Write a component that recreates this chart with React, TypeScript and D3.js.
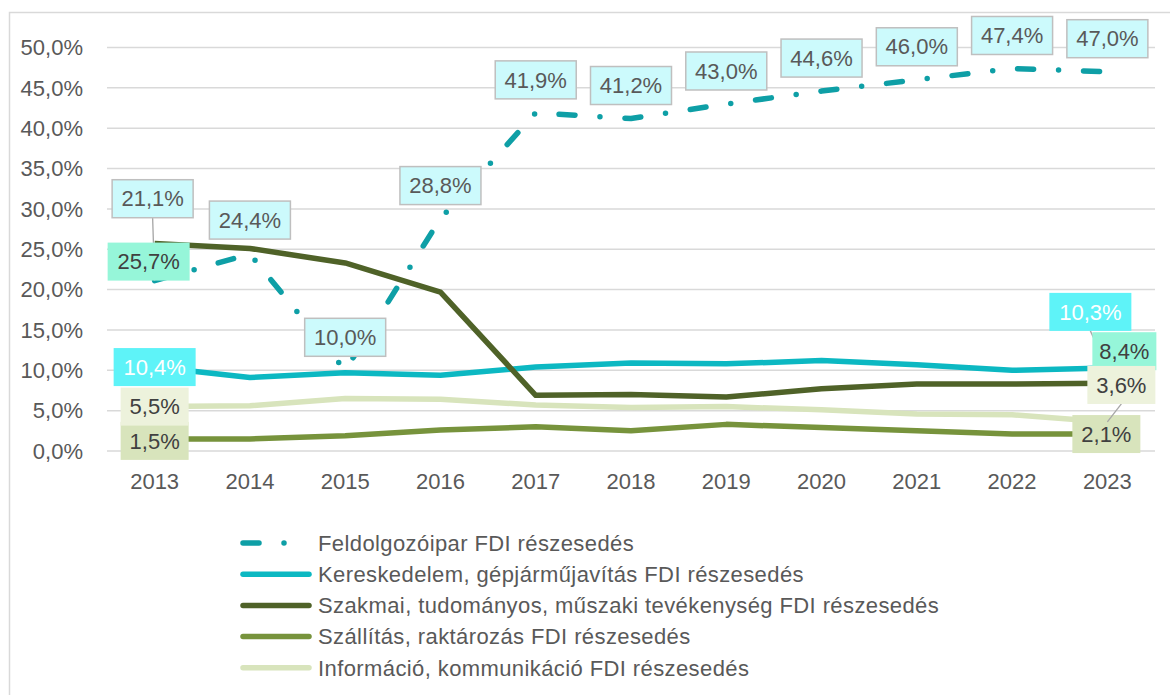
import React from "react";
import * as d3 from "d3";

// values (percent)
const years = ["2013", "2014", "2015", "2016", "2017", "2018", "2019", "2020", "2021", "2022", "2023"];
const feldolgozoipar = [21.1, 24.4, 10.0, 28.8, 41.9, 41.2, 43.0, 44.6, 46.0, 47.4, 47.0];
const kereskedelem = [10.4, 9.1, 9.7, 9.4, 10.4, 10.9, 10.8, 11.2, 10.7, 10.0, 10.3];
const szakmai = [25.7, 25.1, 23.3, 19.7, 6.9, 7.0, 6.7, 7.7, 8.3, 8.3, 8.4];
const szallitas = [1.5, 1.5, 1.9, 2.6, 3.0, 2.5, 3.3, 2.9, 2.5, 2.1, 2.1];
const informacio = [5.5, 5.6, 6.5, 6.4, 5.7, 5.4, 5.5, 5.1, 4.6, 4.5, 3.6];
const yTicks = [0, 5, 10, 15, 20, 25, 30, 35, 40, 45, 50];

const seriesNames = [
  "Feldolgozóipar FDI részesedés",
  "Kereskedelem, gépjárműjavítás FDI részesedés",
  "Szakmai, tudományos, műszaki tevékenység FDI részesedés",
  "Szállítás, raktározás FDI részesedés",
  "Információ, kommunikáció FDI részesedés",
];

const W = 1170;
const H = 695;
const FONT = "'Liberation Sans', Arial, sans-serif";
const FS = 22;
const TEXT = "#595959";
const DASH = "16 25 0 25";

type LabelPos = { i: number; dx: number; dy: number; leader?: boolean; w?: number };

type Series = {
  name: string;
  values: number[];
  color: string;
  dash?: string;
  labelFill: string;
  labelStroke?: string;
  labelText: string;
  labels: LabelPos[];
};

const series: Series[] = [
  {
    name: seriesNames[0], values: feldolgozoipar, color: "#0E9FA6", dash: DASH,
    labelFill: "#CCFAFC", labelStroke: "#BFBFBF", labelText: TEXT,
    labels: [
      { i: 0, dx: -2, dy: -82, leader: true },
      { i: 1, dx: 0, dy: -34 }, { i: 2, dx: 0, dy: -33 }, { i: 3, dx: 0, dy: -33 },
      { i: 4, dx: 0, dy: -33 }, { i: 5, dx: 0, dy: -33 }, { i: 6, dx: 0, dy: -33 },
      { i: 7, dx: 0, dy: -33 }, { i: 8, dx: 0, dy: -33 }, { i: 9, dx: 0, dy: -33 },
      { i: 10, dx: 0, dy: -33 },
    ],
  },
  {
    name: seriesNames[1], values: kereskedelem, color: "#0CB8C2",
    labelFill: "#5EF3F8", labelText: "#FFFFFF",
    labels: [{ i: 0, dx: 0, dy: 0, w: 82 }, { i: 10, dx: -17, dy: -56, leader: true, w: 82 }],
  },
  {
    name: seriesNames[2], values: szakmai, color: "#4F6228",
    labelFill: "#96F6D9", labelText: "#404040",
    labels: [{ i: 0, dx: -6, dy: 18, w: 82 }, { i: 10, dx: 17, dy: -32, w: 64 }],
  },
  {
    name: seriesNames[3], values: szallitas, color: "#77933C",
    labelFill: "#D8E4BC", labelText: "#404040",
    labels: [{ i: 0, dx: 0, dy: 2 }, { i: 10, dx: -1, dy: 0 }],
  },
  {
    name: seriesNames[4], values: informacio, color: "#D8E4BC",
    labelFill: "#EDF2DC", labelText: "#404040",
    labels: [{ i: 0, dx: 0, dy: 0 }, { i: 10, dx: 14, dy: -37, leader: true }],
  },
];

const fmt = (v: number) => v.toFixed(1).replace(".", ",") + "%";

export default function App() {
  const x = d3.scaleBand<string>().domain(years).range([107, 1155]).padding(0);
  const cx = (y: string) => (x(y) ?? 0) + x.bandwidth() / 2;
  const y = d3.scaleLinear().domain([0, 50]).range([451, 47.5]);

  const line = d3
    .line<number>()
    .x((_, i) => cx(years[i]))
    .y((d) => y(d));

  return (
    <div style={{ position: "absolute", left: 0, top: 0 }}>
      <svg width={W} height={H} viewBox={`0 0 ${W} ${H}`} style={{ display: "block", fontFamily: FONT }}>
        <rect x={0} y={0} width={W} height={H} fill="#fff" />
        <rect x={9.5} y={12.5} width={W + 20} height={H + 20} fill="none" stroke="#D9D9D9" strokeWidth={1.5} />

        {/* gridlines and y axis */}
        {yTicks.map((t) => (
          <g key={t}>
            <line x1={107} x2={1155} y1={y(t)} y2={y(t)} stroke="#D9D9D9" strokeWidth={1.5} />
            <text x={83} y={y(t)} dy="0.35em" textAnchor="end" fontSize={FS} fill={TEXT}>
              {fmt(t)}
            </text>
          </g>
        ))}

        {/* x axis labels */}
        {years.map((yr) => (
          <text key={yr} x={cx(yr)} y={489} textAnchor="middle" fontSize={FS} fill={TEXT}>
            {yr}
          </text>
        ))}

        {/* lines */}
        {series.map((s) => (
          <path
            key={s.name}
            d={line(s.values) ?? ""}
            fill="none"
            stroke={s.color}
            strokeWidth={5.5}
            strokeLinejoin="round"
            strokeLinecap={s.dash ? "round" : "butt"}
            strokeDasharray={s.dash}
          />
        ))}

        {/* data labels, drawn in series order so later boxes cover earlier leaders */}
        {series.map((s) => (
          <g key={s.name + "-lbl"}>
            {s.labels.map((l) => {
              const v = s.values[l.i];
              const px = cx(years[l.i]);
              const py = y(v);
              const txt = fmt(v);
              const bw = l.w ?? (txt.length >= 5 ? 81 : 68);
              const bh = 38;
              const bx = px + l.dx;
              const by = py + l.dy;
              const fromY = l.dy < 0 ? by + bh / 2 : by - bh / 2;
              return (
                <g key={l.i}>
                  {l.leader && <line x1={bx} y1={fromY} x2={px} y2={py} stroke="#A6A6A6" strokeWidth={1.3} />}
                  <rect
                    x={bx - bw / 2}
                    y={by - bh / 2}
                    width={bw}
                    height={bh}
                    fill={s.labelFill}
                    stroke={s.labelStroke ?? "none"}
                    strokeWidth={1.5}
                  />
                  <text x={bx} y={by} dy="0.35em" textAnchor="middle" fontSize={FS} fill={s.labelText}>
                    {txt}
                  </text>
                </g>
              );
            })}
          </g>
        ))}

        {/* legend */}
        {series.map((s, k) => {
          const ly = 543 + k * 31.2;
          return (
            <g key={s.name + "-leg"}>
              <line
                x1={243}
                x2={309}
                y1={ly}
                y2={ly}
                stroke={s.color}
                strokeWidth={5.5}
                strokeLinecap="round"
                strokeDasharray={s.dash}
              />
              <text x={318} y={ly} dy="0.35em" fontSize={FS} letterSpacing={0.4} fill={TEXT}>
                {s.name}
              </text>
            </g>
          );
        })}
      </svg>
    </div>
  );
}
